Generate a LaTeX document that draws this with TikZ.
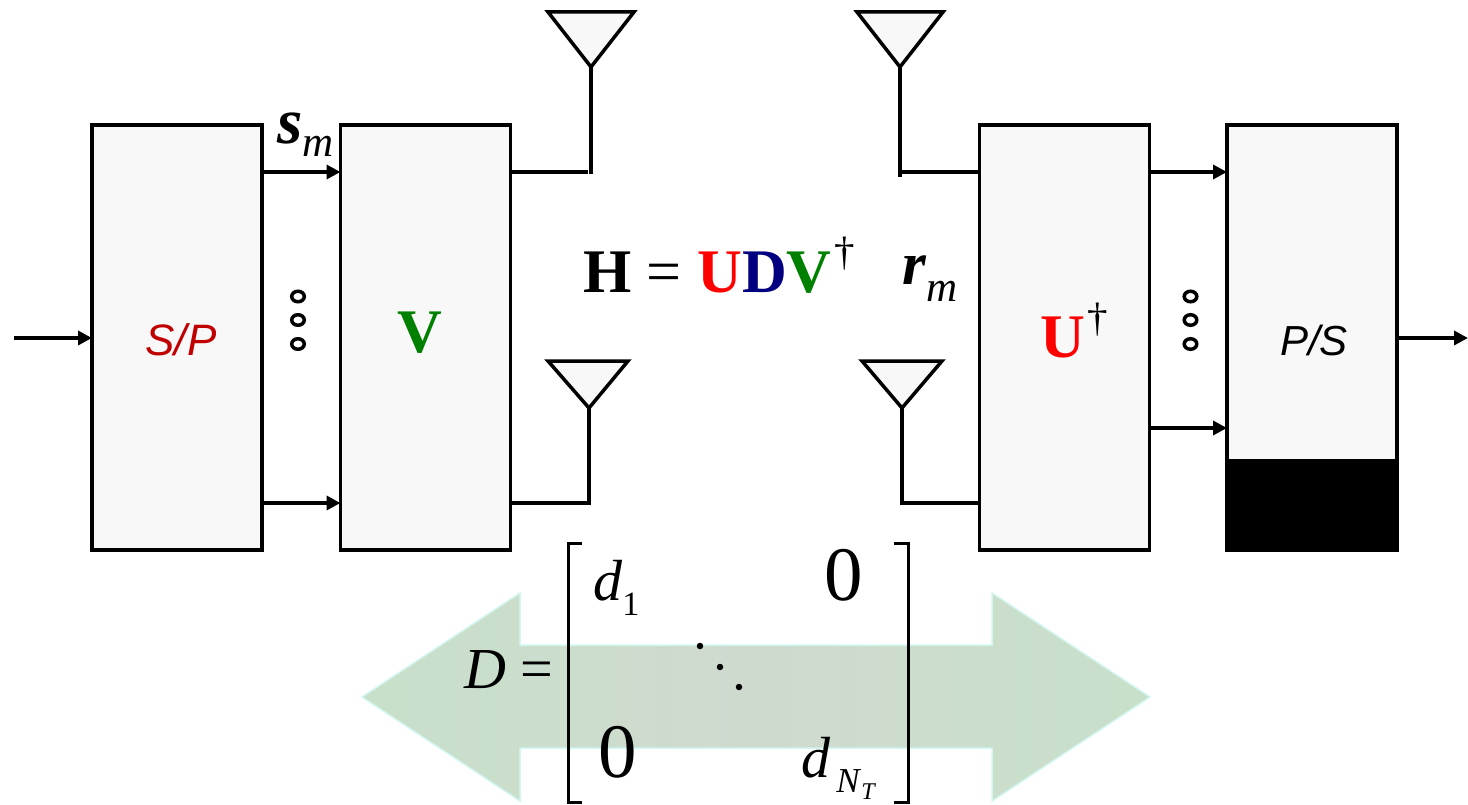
\documentclass[tikz,border=0pt]{standalone}
\usepackage{fontspec}
\setmainfont{Liberation Serif}
\newfontfamily\arialfont{Liberation Sans}
\usetikzlibrary{arrows.meta}
\usetikzlibrary{calc}
\newcommand{\fsz}[1]{\fontsize{#1}{#1}\selectfont}
\definecolor{boxgray}{HTML}{F8F8F8}
\definecolor{udvgreen}{HTML}{008000}
\definecolor{udvnavy}{HTML}{000080}
\definecolor{spred}{HTML}{C00000}
\definecolor{headgreen}{HTML}{C8E0CA}
\definecolor{midgreen}{HTML}{CFDACF}
\definecolor{rimcyan}{HTML}{D2F6F0}
\tikzset{
	block/.style = {draw, line width=3.5pt, fill=boxgray, minimum width=170pt, minimum height=425pt, outer sep=0pt, inner sep=0pt},
	antenna/.style = {draw, line width=3.5pt, fill=boxgray, line join=miter},
	feed/.style = {line width=3.5pt},
	sig/.style = {line width=3.5pt, -{Triangle[length=14pt,width=14pt]}},
	lab/.style = {inner sep=0pt, anchor=base west},
	ring/.style = {draw, circle, line width=3.5pt, minimum size=10.5pt, xscale=1.2, inner sep=0pt},
	dot/.style = {fill, circle, minimum size=6.5pt, inner sep=0pt},
	bracket/.style = {line width=3pt}
}

\begin{document}
\begin{tikzpicture}[x=1pt,y=-1pt]
\useasboundingbox (0,0) rectangle (1468,805);

% double arrow behind the matrix
\draw[line width=1.5pt, draw=rimcyan, left color=headgreen, right color=headgreen, middle color=midgreen]
	(362,697) -- (520,593) -- (520,645) -- (992,645) -- (992,593) -- (1150,697)
	-- (992,801) -- (992,748) -- (520,748) -- (520,801) -- cycle;

\node[block] (sp) at (177,337.5) {};
\node[block] (v) at (425.5,337.5) {};
\node[block] (u) at (1064.5,337.5) {};
\node[block] (ps) at (1312,337.5) {};
\fill (1226,459) rectangle (1399,552);

\node[font=\arialfont\itshape\fsz{44}, text=spred] (splab) at (181,340) {S/P};
\node[font=\arialfont\itshape\fsz{42}] (pslab) at (1314,340) {P/S};
\node[lab, font=\bfseries\fsz{62}, text=udvgreen] (vlab) at (397,352) {V};
\node[lab, font=\fsz{62}] (ulab) at (1040,357) {\textbf{\textcolor{red}{U}}\hspace*{3pt}\raisebox{26pt}{\fsz{41}†}};

\node[lab, font=\fsz{62}] (hlab) at (583,292) {\textbf{H} = \textbf{\textcolor{red}{U}\textcolor{udvnavy}{D}\textcolor{udvgreen}{V}}\hspace*{3pt}\raisebox{26pt}{\fsz{41}†}};
\node[lab, font=\fsz{65}] (slab) at (277,144) {\textbf{\textit{s}}\raisebox{-13pt}{\fsz{43}\textit{m}}};
\node[lab, font=\fsz{61}] (rlab) at (902,285) {\textbf{\textit{r}}\raisebox{-17pt}{\fsz{43}\textit{m}}};

% rows of the signal lines
\coordinate (rowa) at (0,172);
\coordinate (rowb) at (0,503);
\coordinate (rowc) at (0,428);
\coordinate (in) at (14,338);
\coordinate (out) at (1468,338);

\draw[sig] (in) -- (sp.west |- in);
\draw[sig] (ps.east |- out) -- (out);
\draw[sig] (sp.east |- rowa) -- (v.west |- rowa);
\draw[sig] (sp.east |- rowb) -- (v.west |- rowb);
\draw[sig] (u.east |- rowa) -- (ps.west |- rowa);
\draw[sig] (u.east |- rowc) -- (ps.west |- rowc);

% antennas
\coordinate (tipa) at (591,67);
\coordinate (tipb) at (589,408);
\coordinate (tipc) at (900,67);
\coordinate (tipd) at (902,408);
\draw[antenna] (548,12) -- (634,12) -- (tipa) -- cycle;
\draw[antenna] (548,361) -- (628,361) -- (tipb) -- cycle;
\draw[antenna] (857,12) -- (943,12) -- (tipc) -- cycle;
\draw[antenna] (862,361) -- (942,361) -- (tipd) -- cycle;
\draw[feed] (v.east |- rowa) -- ($(tipa |- rowa)+(-3,0)$);
\draw[feed] (tipa) -- ($(tipa |- rowa)+(0,2)$);
\draw[feed] (v.east |- rowb) -- (tipb |- rowb) -- (tipb);
\draw[feed] (u.west |- rowa) -- ($(tipc |- rowa)+(2,0)$);
\draw[feed] (tipc) -- ($(tipc |- rowa)+(0,5)$);
\draw[feed] (u.west |- rowb) -- (tipd |- rowb) -- (tipd);

\foreach \i/\y in {1/296.5,2/320,3/344} {
	\node[ring] (dotl\i) at (298,\y) {};
	\node[ring] (dotr\i) at (1190.5,\y) {};
}

% the matrix
\draw[bracket] (582,543) -- (568,543) -- (568,802) -- (582,802);
\draw[bracket] (894,543) -- (908,543) -- (908,802) -- (894,802);
\node[lab, font=\fsz{58}] (dlab) at (464,688) {\textit{D} =};
\node[lab, font=\fsz{58}] (done) at (593,600) {\textit{d}\raisebox{-15pt}{\fsz{34}1}};
\node[lab, font=\fsz{58}] (dnt) at (801,777) {\textit{d}\hspace*{6pt}\raisebox{-15pt}{\fsz{35}\textit{N}\raisebox{-7pt}{\fsz{24}\textit{T}}}};
\node[lab, font=\fsz{77}] (zeroa) at (824,600) {0};
\node[lab, font=\fsz{77}] (zerob) at (598,777) {0};
\node[dot] (ddota) at (700,646) {};
\node[dot] (ddotb) at (720,667) {};
\node[dot] (ddotc) at (739,687) {};
\end{tikzpicture}
\end{document}
